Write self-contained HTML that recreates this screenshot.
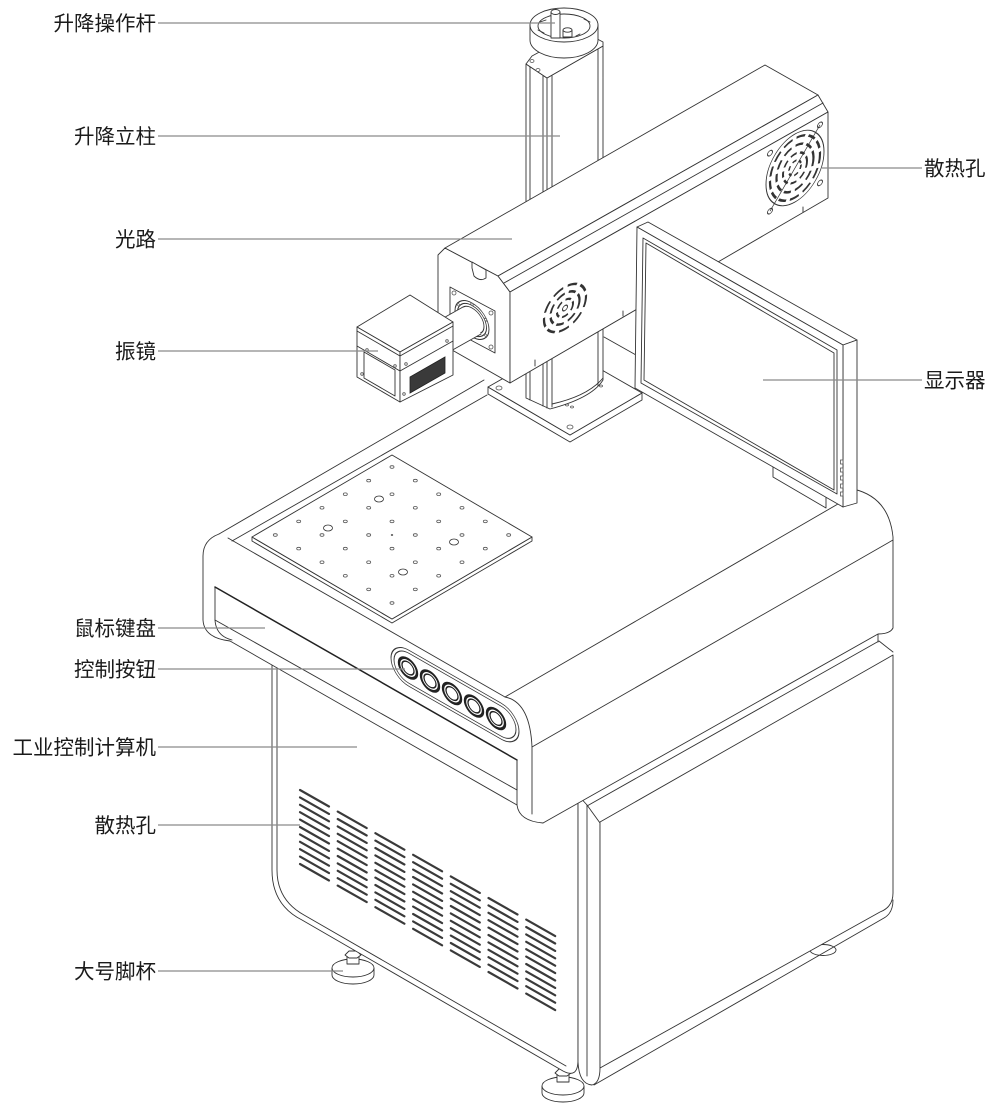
<!DOCTYPE html>
<html><head><meta charset="utf-8"><style>
html,body{margin:0;padding:0;background:#fff;}
svg{display:block}
.l{fill:none;stroke:#333;stroke-width:0.9;stroke-linejoin:round;stroke-linecap:round}
.w{fill:#fff;stroke:#333;stroke-width:0.9;stroke-linejoin:round}
.d{fill:none;stroke:#222;stroke-width:1.7;stroke-linecap:round}
.ld{stroke:#8a8a8a;stroke-width:1.3;fill:none}
.t{font-family:"Liberation Sans","Noto Sans CJK SC",sans-serif;font-size:20.5px;fill:#1a1a1a}
.h{fill:#fff;stroke:#555;stroke-width:0.8}
</style></head><body>
<svg width="1000" height="1116" viewBox="0 0 1000 1116" xmlns="http://www.w3.org/2000/svg">
<defs>
<g id="vc" stroke="#3a3a3a" stroke-width="2.2" stroke-linecap="round">
<line x1="0" y1="0" x2="29" y2="16.5"/>
<line x1="0" y1="7.4" x2="29" y2="23.9"/>
<line x1="0" y1="14.8" x2="29" y2="31.3"/>
<line x1="0" y1="22.2" x2="29" y2="38.7"/>
<line x1="0" y1="29.6" x2="29" y2="46.1"/>
<line x1="0" y1="37" x2="29" y2="53.5"/>
<line x1="0" y1="44.4" x2="29" y2="60.9"/>
<line x1="0" y1="51.8" x2="29" y2="68.3"/>
<line x1="0" y1="59.2" x2="29" y2="75.7"/>
<line x1="0" y1="66.6" x2="29" y2="83.1"/>
<line x1="0" y1="74" x2="29" y2="90.5"/>
</g>
</defs>

<!-- ===== FEET ===== -->
<ellipse class="w" cx="823" cy="950" rx="13" ry="5.5"/>
<g>
<path class="w" d="M332,968 L332,975 A21,9 0 0 0 374,975 L374,968"/>
<ellipse class="w" cx="353" cy="968" rx="21" ry="9"/>
<path class="w" d="M347,964 L347,955 L359,955 L359,964 Z"/>
<polygon class="w" points="345,955 349,951 357,951 361,955 357,958 349,958"/>
</g>
<g transform="translate(210,118)">
<path class="w" d="M332,968 L332,975 A21,9 0 0 0 374,975 L374,968"/>
<ellipse class="w" cx="353" cy="968" rx="21" ry="9"/>
<path class="w" d="M347,964 L347,955 L359,955 L359,964 Z"/>
<polygon class="w" points="345,955 349,951 357,951 361,955 357,958 349,958"/>
</g>

<!-- ===== LOWER CABINET ===== -->
<path class="w" d="M272,630 L272,870 Q272,905 302,920 L563,1071 Q578,1079 578,1060 L578,790 Z"/>
<path class="l" d="M277,640 L277,870 Q277,900 304,915 L566,1066"/>
<path class="w" d="M578,795 L578,1062 Q579,1084 592,1085 Q600,1083 600,1068 L600,823 L587,805 Z"/>
<path class="l" d="M587,805 L587,1076"/>
<path class="w" d="M600,822 L893,655 L893,893 Q893,907 880,912 L600,1068 Z"/>
<path class="l" d="M587,806 L879,641 L893,652"/>
<path class="l" d="M878,630 L878,642"/>
<path class="l" d="M594,1085 L884,918 Q893,913 893,900"/>

<!-- vents -->
<use href="#vc" x="300" y="790"/>
<use href="#vc" x="337.7" y="811.6"/>
<use href="#vc" x="375.4" y="833.2"/>
<use href="#vc" x="413.1" y="854.8"/>
<use href="#vc" x="450.8" y="876.4"/>
<use href="#vc" x="488.5" y="898"/>
<use href="#vc" x="526.2" y="919.6"/>

<!-- ===== DECK ===== -->
<path fill="#fff" stroke="none" d="M219,534 L575,327 L855,490 Q890,498 893,537 L893,628 Q890,634 878,634 L543,823 Q520,822 517,805 L230,641 Q203,638 203,620 L203,553 Q204,538 219,534 Z"/>
<path class="l" d="M219,534 L484,380"/>
<path class="l" d="M232,541 L487,395"/>
<path class="l" d="M604,337 L636,355"/>
<path class="l" d="M219,534 Q203,540 203,556 L203,620 Q204,638 230,641"/>
<path class="l" d="M228,538 L505,697"/>
<path class="l" d="M505,697 L850,497"/>
<path class="l" d="M853,489 Q889,497 893,537 L893,628 Q890,634 878,634 L543,823"/>
<path class="l" d="M505,697 Q530,702 532,747 L532,814"/>
<path class="l" d="M532,747 L893,540"/>
<path class="l" d="M230,641 L517,805 Q519,821 543,823"/>
<path class="l" d="M517,760 L517,805"/>
<!-- drawer -->
<path class="l" d="M215,587 L215,620 L517,790"/>
<path class="l" d="M215,620 Q216,636 232,640"/>
<path class="d" style="stroke-width:1.5" d="M215,587 L517,760"/>
<path class="l" d="M517,760 L517,790"/>

<!-- button panel -->
<g transform="matrix(1,0.573,0,1,391,640)">
<rect class="w" x="0" y="0" width="128" height="36" rx="18" ry="18"/>
<rect class="l" x="3" y="3" width="122" height="30" rx="15" ry="15"/>
</g>
<g fill="#fff" stroke="#222">
<g transform="matrix(1,0.573,0,1,408,668)"><circle r="9" stroke-width="2.4"/><circle r="6" stroke-width="1.3"/></g>
<g transform="matrix(1,0.573,0,1,430,681)"><circle r="9" stroke-width="2.4"/><circle r="6" stroke-width="1.3"/></g>
<g transform="matrix(1,0.573,0,1,452,693.5)"><circle r="9" stroke-width="2.4"/><circle r="6" stroke-width="1.3"/></g>
<g transform="matrix(1,0.573,0,1,474,706)"><circle r="9" stroke-width="2.4"/><circle r="6" stroke-width="1.3"/></g>
<g transform="matrix(1,0.573,0,1,496,718.5)"><circle r="9" stroke-width="2.4"/><circle r="6" stroke-width="1.3"/></g>
</g>

<!-- ===== WORK PLATE ===== -->
<polygon class="w" points="252,537 252,541 392,623 532,541 532,537 392,619"/>
<polygon class="w" points="392,455 532,537 392,619 252,537"/>
<g class="h">
<ellipse cx="392" cy="467" rx="2" ry="1.3"/>
<ellipse cx="368.7" cy="480.6" rx="2" ry="1.3"/><ellipse cx="415.3" cy="480.6" rx="2" ry="1.3"/>
<ellipse cx="345.3" cy="494.2" rx="2" ry="1.3"/><ellipse cx="392" cy="494.2" rx="2" ry="1.3"/><ellipse cx="438.7" cy="494.2" rx="2" ry="1.3"/>
<ellipse cx="322" cy="507.8" rx="2" ry="1.3"/><ellipse cx="368.7" cy="507.8" rx="2" ry="1.3"/><ellipse cx="415.3" cy="507.8" rx="2" ry="1.3"/><ellipse cx="462" cy="507.8" rx="2" ry="1.3"/>
<ellipse cx="298.7" cy="521.4" rx="2" ry="1.3"/><ellipse cx="345.3" cy="521.4" rx="2" ry="1.3"/><ellipse cx="392" cy="521.4" rx="2" ry="1.3"/><ellipse cx="438.7" cy="521.4" rx="2" ry="1.3"/><ellipse cx="485.3" cy="521.4" rx="2" ry="1.3"/>
<ellipse cx="275.3" cy="535" rx="2" ry="1.3"/><ellipse cx="322" cy="535" rx="2" ry="1.3"/><ellipse cx="368.7" cy="535" rx="2" ry="1.3"/><ellipse cx="415.3" cy="535" rx="2" ry="1.3"/><ellipse cx="462" cy="535" rx="2" ry="1.3"/><ellipse cx="508.7" cy="535" rx="2" ry="1.3"/>
<ellipse cx="298.7" cy="548.6" rx="2" ry="1.3"/><ellipse cx="345.3" cy="548.6" rx="2" ry="1.3"/><ellipse cx="392" cy="548.6" rx="2" ry="1.3"/><ellipse cx="438.7" cy="548.6" rx="2" ry="1.3"/><ellipse cx="485.3" cy="548.6" rx="2" ry="1.3"/>
<ellipse cx="322" cy="562.2" rx="2" ry="1.3"/><ellipse cx="368.7" cy="562.2" rx="2" ry="1.3"/><ellipse cx="415.3" cy="562.2" rx="2" ry="1.3"/><ellipse cx="462" cy="562.2" rx="2" ry="1.3"/>
<ellipse cx="345.3" cy="575.8" rx="2" ry="1.3"/><ellipse cx="392" cy="575.8" rx="2" ry="1.3"/><ellipse cx="438.7" cy="575.8" rx="2" ry="1.3"/>
<ellipse cx="368.7" cy="589.4" rx="2" ry="1.3"/><ellipse cx="415.3" cy="589.4" rx="2" ry="1.3"/>
<ellipse cx="392" cy="603" rx="2" ry="1.3"/>
<ellipse cx="392" cy="535" rx="0.8" ry="0.6"/>
<ellipse cx="379" cy="499" rx="4.5" ry="3" stroke="#333"/>
<ellipse cx="328" cy="528" rx="4.5" ry="3" stroke="#333"/>
<ellipse cx="454" cy="542" rx="4.5" ry="3" stroke="#333"/>
<ellipse cx="403" cy="572" rx="4.5" ry="3" stroke="#333"/>
</g>

<!-- ===== BASE PLATE ===== -->
<polygon class="w" points="488,387 488,394 570,442 642,400 642,393 570,435"/>
<polygon class="w" points="488,387 560,346 642,393 570,435"/>
<g class="h">
<ellipse cx="499" cy="388" rx="3" ry="2"/>
<ellipse cx="570" cy="427" rx="3" ry="2"/>
<ellipse cx="596" cy="384" rx="1.5" ry="1"/><ellipse cx="601" cy="386" rx="1.5" ry="1"/>
<ellipse cx="567" cy="405" rx="1.5" ry="1"/><ellipse cx="572" cy="407" rx="1.5" ry="1"/>
</g>

<!-- ===== COLUMN ===== -->
<path class="w" d="M526,64 L547,78 L603,46 L603,380 Q592,398 550,409 L526,398 Z"/>
<path class="l" d="M530,66 L530,400 M543,76 L543,406 M547,78 L547,408 M552,76 L552,407 M598,49 L598,386"/>
<path class="l" d="M552,404 Q588,396 603,378"/>
<path class="w" d="M526,64 L532,56 L580,30 L603,42 L603,46 L547,78 Z"/>
<ellipse class="h" cx="532" cy="61" rx="2" ry="1.5"/>
<ellipse class="h" cx="538" cy="70" rx="2" ry="1.5"/>
<!-- handle -->
<path class="w" d="M530,25 L530,40 A34,18 0 0 0 598,40 L598,25 Z"/>
<ellipse class="w" cx="564" cy="25" rx="34" ry="17"/>
<ellipse class="l" cx="564" cy="26" rx="26" ry="12"/>
<path class="l" d="M540,22 L546,20 M584,19 L590,22 M576,36 L580,34 M538,30 L544,33"/>
<path class="w" d="M563,37 L563,30 L572,30 L572,37 Z"/>
<ellipse class="w" cx="567.5" cy="30" rx="4.5" ry="2.2"/>
<path class="w" d="M551,38 L551,12 L560,12 L560,38 Z"/>
<ellipse class="w" cx="555.5" cy="12" rx="4.5" ry="2.5"/>

<!-- ===== OPTICAL BOX ===== -->
<polygon class="w" points="438,255 445,248 498,276 510,292 510,383 438,342"/>
<polygon class="w" points="445,248 765,65 818,95 498,276"/>
<polygon class="w" points="498,276 818,95 828,112 510,292"/>
<path class="l" d="M504,283 L823,103"/>
<polygon class="w" points="510,292 828,112 828,198 510,383"/>
<path class="w" d="M472,262 L486,270 L486,278 Q480,282 474,276 L472,268 Z"/>
<path class="l" d="M623,311 L623,316 M535,360 L535,366 M803,207 L803,212"/>
<!-- front fan -->
<g transform="matrix(1,-0.566,0,1,565,308)" fill="none" stroke="#333">
<circle r="21" stroke-width="2.2" stroke-dasharray="10 4.5"/>
<circle r="14.5" stroke-width="2.2" stroke-dasharray="8 4"/>
<circle r="8" stroke-width="2" stroke-dasharray="6 3.5"/>
<circle r="2.5" stroke-width="1"/>
</g>
<!-- rear fan -->
<g transform="matrix(1,-0.566,0,1,795,168)" fill="none" stroke="#333">
<ellipse rx="29" ry="34" stroke-width="0.9"/>
<ellipse rx="25" ry="29.5" stroke-width="2.2" stroke-dasharray="9 4"/>
<ellipse rx="18.5" ry="22" stroke-width="2.2" stroke-dasharray="8 4"/>
<ellipse rx="12" ry="14" stroke-width="2" stroke-dasharray="6 3.5"/>
<ellipse rx="6" ry="7" stroke-width="1.8" stroke-dasharray="4 3"/>
<line x1="25" y1="-29" x2="-25" y2="29" stroke-width="0.9"/>
<circle cx="25" cy="-29" r="2.5" stroke-width="0.9"/>
<circle cx="-25" cy="-29" r="2.5" stroke-width="0.9"/>
<circle cx="25" cy="29" r="2.5" stroke-width="0.9"/>
<circle cx="-25" cy="29" r="2.5" stroke-width="0.9"/>
</g>

<!-- flange -->
<polygon class="w" points="450,287 495,311 495,353 450,329"/>
<g class="h"><circle cx="454" cy="293" r="2"/><circle cx="491" cy="313" r="2"/><circle cx="491" cy="347" r="2"/><circle cx="454" cy="326" r="2"/></g>
<g transform="matrix(1,0.55,0,1,472,320)">
<circle class="w" r="17"/>
<circle class="l" r="14.5"/>
<g class="h"><circle cx="0" cy="-15.7" r="1.2"/><circle cx="13.6" cy="-7.8" r="1.2"/><circle cx="13.6" cy="7.8" r="1.2"/><circle cx="0" cy="15.7" r="1.2"/><circle cx="-13.6" cy="7.8" r="1.2"/><circle cx="-13.6" cy="-7.8" r="1.2"/></g>
<circle class="w" r="12"/>
</g>
<!-- tube -->
<polygon fill="#fff" stroke="none" points="463,307 431,325 449,352 481,334"/>
<path class="l" d="M463,307 L431,325 M481,334 L449,352"/>

<!-- ===== GALVO ===== -->
<polygon class="w" points="357,327 410,295 453,322 400,352"/>
<polygon class="w" points="357,327 400,352 400,402 357,377"/>
<polygon class="w" points="400,352 453,322 453,375 400,402"/>
<path class="l" d="M357,331 L400,356 L453,326"/>
<path class="l" d="M357,346 L400,371 L453,341"/>
<path class="l" d="M364,352 L395,370 L395,396 L364,378 Z"/>
<polygon points="410,377 445,357 445,373 410,393" fill="#3a3a3a" stroke="#222" stroke-width="0.8"/>
<g class="h"><circle cx="367" cy="350" r="1.3"/><circle cx="395" cy="366" r="1.3"/><circle cx="406" cy="364" r="1.3"/><circle cx="447" cy="341" r="1.3"/><circle cx="362" cy="374" r="1.3"/><circle cx="404" cy="394" r="1.3"/></g>

<!-- ===== MONITOR ===== -->
<polygon class="w" points="773,460 773,477 826,508 826,495"/>
<polygon class="w" points="637,227 648,222 857,340 843,345"/>
<polygon class="w" points="843,345 857,340 857,503 843,507"/>
<polygon class="w" points="637,227 843,345 843,507 635,388"/>
<polygon class="l" points="643,238 837,350 837,494 641,383"/>
<polygon class="l" points="646,243 834,353 834,490 644,380"/>
<g class="h"><rect x="840.5" y="460" width="2.5" height="4"/><rect x="840.5" y="468" width="2.5" height="4"/><rect x="840.5" y="476" width="2.5" height="4"/><rect x="840.5" y="484" width="2.5" height="4"/><rect x="840.5" y="492" width="2.5" height="4"/></g>

<!-- ===== LEADERS ===== -->
<path class="ld" d="M158,23 L555,23"/>
<path class="ld" d="M158,136 L560,136"/>
<path class="ld" d="M158,239 L512,239"/>
<path class="ld" d="M158,351 L378,351"/>
<path class="ld" d="M158,628 L265,628"/>
<path class="ld" d="M158,669 L405,669"/>
<path class="ld" d="M158,747 L357,747"/>
<path class="ld" d="M158,825 L300,825"/>
<path class="ld" d="M158,971 L343,971"/>
<path class="ld" d="M822,168 L922,168"/>
<path class="ld" d="M763,380 L922,380"/>

<!-- ===== LABELS ===== -->
<g class="t" text-anchor="end">
<text x="156" y="30.5">升降操作杆</text>
<text x="156" y="143.5">升降立柱</text>
<text x="156" y="246.5">光路</text>
<text x="156" y="358.5">振镜</text>
<text x="156" y="635.5">鼠标键盘</text>
<text x="156" y="676.5">控制按钮</text>
<text x="156" y="754.5">工业控制计算机</text>
<text x="156" y="832.5">散热孔</text>
<text x="156" y="978.5">大号脚杯</text>
</g>
<g class="t">
<text x="924" y="175.5">散热孔</text>
<text x="924" y="387.5">显示器</text>
</g>
</svg>
</body></html>
